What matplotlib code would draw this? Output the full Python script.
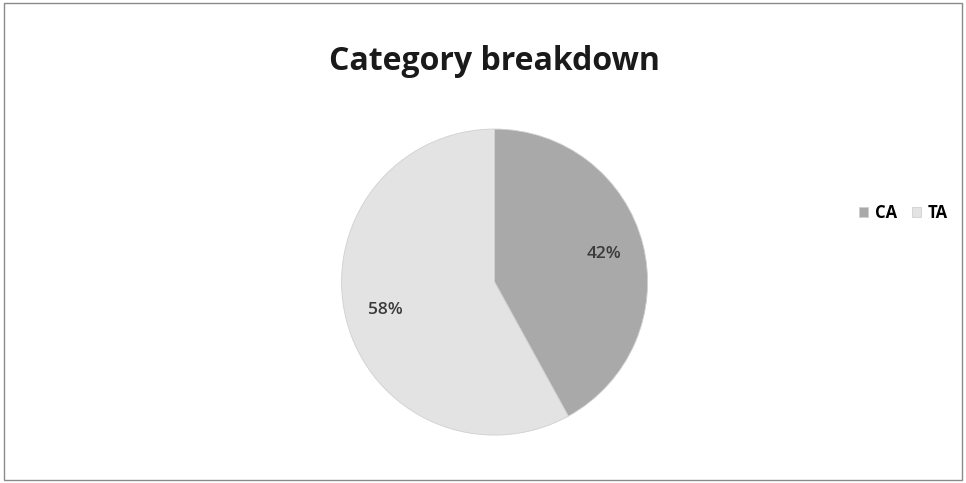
import matplotlib
matplotlib.use("Agg")
import matplotlib.pyplot as plt
from matplotlib.patches import Rectangle

categories = ["CA", "TA"]
values = [42, 58]
colors = ["#a9a9a9", "#e3e3e3"]
title = "Category breakdown"

plt.rcParams['font.family'] = ['Open Sans', 'DejaVu Sans']
fig = plt.figure(figsize=(9.66, 4.83), dpi=100)
fig.patch.set_facecolor("white")
fig.add_artist(Rectangle((0.004, 0.006), 0.992, 0.988, transform=fig.transFigure,
                         fill=False, edgecolor="#8a8a8a", linewidth=1.0))

ax = fig.add_axes([0.512 - 0.1584, 0.416 - 0.3168, 0.3168, 0.6336])
wedges, texts, autotexts = ax.pie(values, colors=colors, startangle=90, counterclock=False,
                                  autopct='%1.0f%%', pctdistance=0.74,
                                  wedgeprops=dict(linewidth=0.6, edgecolor="#d0d0d0"),
                                  textprops=dict(fontsize=12.5, color="#3a3a3a", fontweight='semibold'))
ax.set_xlim(-1.0, 1.0)
ax.set_ylim(-1.0, 1.0)
ax.set_aspect('equal')

fig.text(0.512, 0.872, title, ha='center', va='center', fontsize=23, fontweight='bold', color="#1a1a1a")

fig.legend(wedges, categories, loc='center left', bbox_to_anchor=(0.874, 0.56), ncol=2,
           frameon=False, handlelength=0.55, handleheight=0.55,
           handletextpad=0.4, columnspacing=0.9, prop=dict(weight='bold', size=12))

fig.savefig("out.png", dpi=100)
